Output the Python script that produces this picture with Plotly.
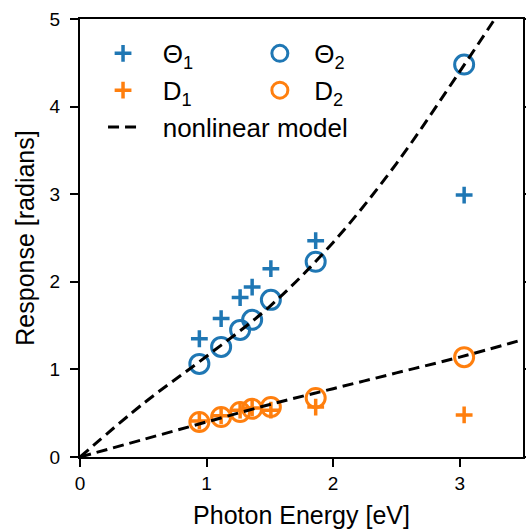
import plotly.graph_objects as go

# Data
energy = [0.943, 1.115, 1.265, 1.36, 1.508, 1.862, 3.035]
theta1 = [1.35, 1.58, 1.82, 1.94, 2.15, 2.47, 2.99]
theta2 = [1.063, 1.257, 1.451, 1.566, 1.794, 2.229, 4.48]
d1 = [0.41, 0.47, 0.535, 0.56, 0.535, 0.57, 0.48]
d2 = [0.40, 0.457, 0.514, 0.55, 0.571, 0.674, 1.14]

model_x = [0, 0.5, 1.0, 1.5, 2.0, 2.5, 3.0, 3.3]
model_theta = [0, 0.61, 1.15, 1.72, 2.45, 3.35, 4.40, 5.05]
model_dx = [0, 0.5, 1.0, 1.5, 2.0, 2.5, 3.0, 3.5]
model_d = [0, 0.20, 0.40, 0.60, 0.78, 0.96, 1.14, 1.34]

x_ticks = [0, 1, 2, 3]
y_ticks = [0, 1, 2, 3, 4, 5]

BLUE = "#1f77b4"
ORANGE = "#ff7f0e"
FONT = "Liberation Sans, Arial, sans-serif"
PAD1 = "\u00a0\u00a0\u2009"
PAD2 = "\u00a0\u00a0"

fig = go.Figure()

fig.add_trace(go.Scatter(x=energy, y=theta2, mode="markers", name=PAD2 + "Θ<sub>2</sub>",
                         legend="legend2",
                         marker=dict(symbol="circle-open", size=19, color=BLUE,
                                     line=dict(width=3, color=BLUE))))
fig.add_trace(go.Scatter(x=energy, y=d2, mode="markers", name=PAD2 + "D<sub>2</sub>",
                         legend="legend2",
                         marker=dict(symbol="circle-open", size=19, color=ORANGE,
                                     line=dict(width=3, color=ORANGE))))
fig.add_trace(go.Scatter(x=energy, y=theta1, mode="markers", name=PAD1 + "Θ<sub>1</sub>",
                         legend="legend",
                         marker=dict(symbol="cross-thin-open", size=12, color=BLUE,
                                     line=dict(width=3.5, color=BLUE))))
fig.add_trace(go.Scatter(x=energy, y=d1, mode="markers", name=PAD1 + "D<sub>1</sub>",
                         legend="legend",
                         marker=dict(symbol="cross-thin-open", size=12, color=ORANGE,
                                     line=dict(width=3.5, color=ORANGE))))
fig.add_trace(go.Scatter(x=model_x, y=model_theta, mode="lines", name=PAD1 + "nonlinear model",
                         legend="legend", legendgroup="model",
                         line=dict(color="black", width=3, dash="11px,6px", shape="spline")))
fig.add_trace(go.Scatter(x=model_dx, y=model_d, mode="lines", name=PAD1 + "nonlinear model",
                         legend="legend", legendgroup="model", showlegend=False,
                         line=dict(color="black", width=3, dash="11px,6px", shape="spline")))

axis_common = dict(
    showgrid=False, zeroline=False, showline=True, linecolor="black", linewidth=2,
    ticks="outside", ticklen=8, tickwidth=2, tickcolor="black",
    tickfont=dict(family=FONT, size=19, color="black"),
    title_font=dict(family=FONT, size=25, color="black"),
)

legend_common = dict(
    yanchor="top", xanchor="left", bgcolor="rgba(0,0,0,0)", borderwidth=0,
    font=dict(family=FONT, size=26, color="black"), tracegroupgap=0, itemwidth=30,
)

fig.update_layout(
    width=526, height=529, autosize=False,
    margin=dict(l=80, r=3, t=19, b=72, autoexpand=False),
    paper_bgcolor="white", plot_bgcolor="white",
    font=dict(family=FONT, color="black"),
    xaxis=dict(range=[0, 3.5], tickvals=x_ticks, mirror=True, automargin=False,
               title=dict(text="Photon Energy [eV]", standoff=14), **axis_common),
    yaxis=dict(range=[0, 5], tickvals=y_ticks, mirror="ticks", automargin=False,
               ticklabelstandoff=6,
               title=dict(text="Response [radians]", standoff=8), **axis_common),
    legend=dict(x=0.052, y=0.975, **legend_common),
    legend2=dict(x=0.406, y=0.975, **legend_common),
    showlegend=True,
)

fig.write_html("out.html", config={"responsive": False, "displayModeBar": False},
               post_script="document.body.style.margin='0';document.body.style.overflow='hidden';")
